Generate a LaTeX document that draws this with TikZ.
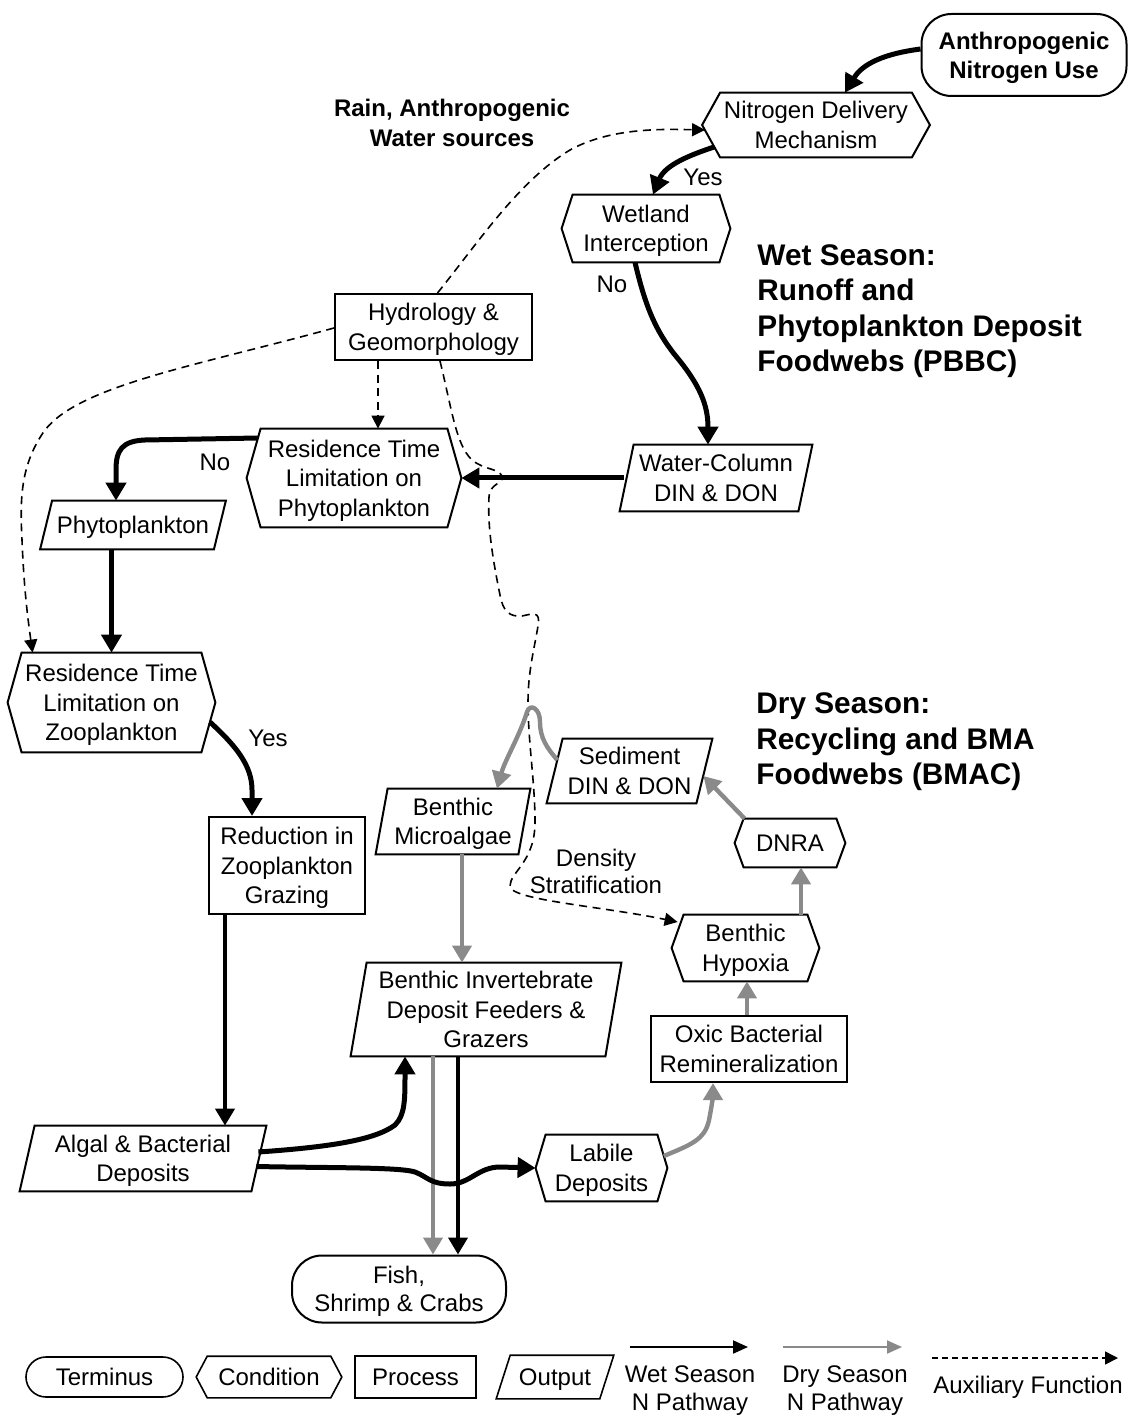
\documentclass[tikz,border=0pt]{standalone}
\usepackage{fontspec}
\setmainfont{Liberation Sans}
\usetikzlibrary{arrows.meta}
\definecolor{drygray}{RGB}{138,138,138}

\tikzset{
  nodetext/.style={inner sep=0pt, align=center, text depth=0pt, font=\fontsize{12}{14.75}\selectfont},
  shapeline/.style={draw=black, line width=1pt},
  proc/.style={nodetext, draw, line width=1pt},
  term/.style={nodetext, draw, line width=1pt, rounded corners=15pt},
  lbl/.style={inner sep=0pt, align=center, font=\fontsize{12}{14.75}\selectfont},
  wet/.style={line width=2.5pt, -{Triangle[length=9pt,width=10pt]}},
  wetthin/.style={line width=2pt, -{Triangle[length=8.5pt,width=9.5pt]}},
  dry/.style={color=drygray, line width=2.2pt, -{Triangle[length=8.5pt,width=9.5pt]}},
  aux/.style={line width=0.8pt, dash pattern=on 4pt off 2.8pt, -{Triangle[length=6.5pt,width=6.5pt]}},
}

% condition: hexagon pointed left and right
% [line style] {name}{position}{width}{height}{indent}{text}
\newcommand\condnode[7][]{%
  \node[nodetext, minimum width=#4, minimum height=#5, #1] (#2) at #3 {#7};
  \draw[shapeline, #1] (#2.west) -- ([xshift=#6]#2.north west) -- ([xshift=-#6]#2.north east)
    -- (#2.east) -- ([xshift=-#6]#2.south east) -- ([xshift=#6]#2.south west) -- cycle;}

% output: parallelogram leaning right
\newcommand\outnode[7][]{%
  \node[nodetext, minimum width=#4, minimum height=#5, #1] (#2) at #3 {#7};
  \draw[shapeline, #1] (#2.south west) -- ([xshift=#6]#2.north west) -- (#2.north east)
    -- ([xshift=-#6]#2.south east) -- cycle;}

\begin{document}
\begin{tikzpicture}[x=0.5pt, y=-0.5pt]
\useasboundingbox (0,0) rectangle (1134,1416);

% ---------- nodes ----------
\node[term, font=\fontsize{12}{14.5}\selectfont\bfseries, minimum width=102.5pt, minimum height=41pt]
  (anthro) at (1024,55) {Anthropogenic\\Nitrogen Use};
\condnode{deliv}{(816,125)}{113.5pt}{32pt}{9pt}{Nitrogen Delivery\\Mechanism}
\condnode{wetland}{(646,228.5)}{84pt}{33.5pt}{5.5pt}{Wetland\\Interception}
\node[proc, minimum width=98.5pt, minimum height=33pt] (hydro) at (433.5,327) {Hydrology \&\\Geomorphology};
\condnode{rtphyto}{(354,478)}{107pt}{49pt}{7pt}{Residence Time\\Limitation on\\Phytoplankton}
\outnode{phyto}{(133,525)}{92.5pt}{24pt}{6pt}{Phytoplankton}
\outnode{wcdin}{(716,478)}{96pt}{33pt}{7pt}{Water-Column\\DIN \& DON}
\condnode{rtzoo}{(111.5,702.5)}{103.5pt}{49.5pt}{7pt}{Residence Time\\Limitation on\\Zooplankton}
\node[proc, minimum width=78pt, minimum height=48.5pt] (graze) at (287,865.5) {Reduction in\\Zooplankton\\Grazing};
\outnode{bma}{(453,821.5)}{77pt}{32.5pt}{6pt}{Benthic\\Microalgae}
\outnode{seddin}{(629.5,771)}{82.5pt}{32pt}{8pt}{Sediment\\DIN \& DON}
\condnode{dnra}{(790,843)}{55pt}{24pt}{4.5pt}{DNRA}
\condnode{hypoxia}{(745.5,948)}{73.5pt}{33pt}{6pt}{Benthic\\Hypoxia}
\node[proc, minimum width=98pt, minimum height=33pt] (oxic) at (749,1049) {Oxic Bacterial\\Remineralization};
\outnode{invert}{(486,1009.5)}{135pt}{46.5pt}{8pt}{Benthic Invertebrate\\Deposit Feeders \&\\Grazers}
\outnode{algal}{(143,1158.5)}{123pt}{32.5pt}{7.5pt}{Algal \& Bacterial\\Deposits}
\condnode{labile}{(601.5,1168)}{65.5pt}{33pt}{5pt}{Labile\\Deposits}
\node[term, font=\fontsize{12}{14.25}\selectfont, minimum width=107pt, minimum height=33.5pt]
  (fish) at (399,1289) {Fish,\\Shrimp \& Crabs};

% ---------- headings and labels ----------
\node[lbl, font=\fontsize{12}{15}\selectfont\bfseries] (rain) at (452,123) {Rain, Anthropogenic\\Water sources};
\node[lbl, anchor=west, align=left, font=\fontsize{14.9}{17.75}\selectfont\bfseries]
  (wettitle) at (757,311) {Wet Season:\\Runoff and\\Phytoplankton Deposit\\Foodwebs (PBBC)};
\node[lbl, anchor=west, align=left, font=\fontsize{14.9}{17.75}\selectfont\bfseries]
  (drytitle) at (756,742) {Dry Season:\\Recycling and BMA\\Foodwebs (BMAC)};
\node[lbl] (yes1) at (703,177) {Yes};
\node[lbl] (no1) at (612,284) {No};
\node[lbl] (no2) at (215,462) {No};
\node[lbl] (yes2) at (268,738) {Yes};
\node[lbl, font=\fontsize{12}{13.5}\selectfont] (strat) at (596,871) {Density\\Stratification};

% ---------- auxiliary functions ----------
\draw[aux] ([xshift=2pt]hydro.north) .. controls (480,240) and (520,180) .. (570,150)
  .. controls (610,128) and (660,129) .. ([xshift=1.5pt,yshift=-2.5pt]deliv.west);
\draw[aux] ([yshift=-0.5pt]hydro.west) .. controls (200,365) and (80,385) .. (45,430)
  .. controls (20,465) and (20,500) .. (22,540)
  .. controls (24,590) and (28,620) .. ([xshift=12.5pt]rtzoo.north west);
\draw[aux] ([xshift=-27.75pt]hydro.south) -- ([xshift=-27.75pt]hydro.south |- rtphyto.north);
\draw[aux] ([xshift=3.25pt]hydro.south) .. controls (452,410) and (456,445) .. (472,460)
  .. controls (484,470) and (498,468) .. (502,476)
  .. controls (505,484) and (490,482) .. (489,497)
  .. controls (487,530) and (495,570) .. (500,595)
  .. controls (503,612) and (510,617) .. (522,616)
  .. controls (532,614) and (541,610) .. (538,626)
  .. controls (534,650) and (528,672) .. (528,702)
  .. controls (528,742) and (535,782) .. (535,822)
  .. controls (535,862) and (510,872) .. (510,886)
  .. controls (510,900) and (600,906) .. ([xshift=3pt,yshift=13pt]hypoxia.west);

% ---------- wet season pathway ----------
\draw[wet] ([yshift=3pt]anthro.west) .. controls (875,55) and (860,68) .. ([xshift=14.5pt]deliv.north);
\draw[wet] ([xshift=6pt,yshift=-11pt]deliv.west) .. controls (690,155) and (665,165) .. ([xshift=3.5pt]wetland.north);
\draw[wet] ([xshift=-5.5pt]wetland.south) .. controls (645,305) and (655,330) .. (675,355)
  .. controls (700,385) and (708,405) .. ([xshift=-4pt]wcdin.north);
\draw[wet] ([xshift=2pt]wcdin.west) -- (rtphyto.east);
\draw[wet] ([xshift=5.7pt,yshift=20pt]rtphyto.west) -- (145,440)
  .. controls (122,441) and (116,450) .. (116,470) -- ([xshift=-8.5pt]phyto.north);
\draw[wet] (phyto.south -| rtzoo.north) -- (rtzoo.north);
\draw[wet] ([xshift=-2.75pt,yshift=-9.75pt]rtzoo.east) .. controls (235,745) and (252,765) .. (252,790)
  -- ([xshift=-17.5pt]graze.north);
\draw[wetthin] ([xshift=-31pt]graze.south) -- ([xshift=-31pt]graze.south |- algal.north);
\draw[wet] ([xshift=-4pt,yshift=3.25pt]algal.east) .. controls (330,1147) and (375,1140) .. (395,1125)
  .. controls (405,1115) and (405,1100) .. ([xshift=-40.5pt]invert.south);
\draw[dry, line width=2pt] ([xshift=-26.5pt]invert.south) -- ([xshift=-26.5pt]invert.south |- fish.north);
\draw[wetthin] ([xshift=-14pt]invert.south) -- ([xshift=-14pt]invert.south |- fish.north);
\draw[wet] ([xshift=-5pt,yshift=-4pt]algal.east) .. controls (330,1168) and (400,1167) .. (415,1172)
  .. controls (428,1177) and (430,1184) .. (450,1184)
  .. controls (470,1184) and (478,1167) .. (500,1167) -- (labile.west);

% ---------- dry season pathway ----------
\draw[dry, line width=2pt] ([xshift=4.5pt]bma.south) -- ([xshift=4.5pt]bma.south |- invert.north);
\draw[dry] ([xshift=5.35pt,yshift=5.5pt]seddin.west) .. controls (547,748) and (540,738) .. (540,722)
  .. controls (540,708) and (530,703) .. (527,712)
  .. controls (520,735) and (505,760) .. ([xshift=22pt]bma.north);
\draw[dry] ([xshift=-1.8pt,yshift=6pt]labile.east) .. controls (690,1145) and (705,1140) .. (709,1120)
  .. controls (712,1105) and (713,1095) .. ([xshift=-18pt]oxic.south);
\draw[dry] ([xshift=-1pt]oxic.north) -- ([xshift=-1pt]oxic.north |- hypoxia.south);
\draw[dry] ([xshift=27.75pt]hypoxia.north) -- ([xshift=27.75pt]hypoxia.north |- dnra.south);
\draw[dry] ([xshift=5pt]dnra.north west) -- ([xshift=-4.5pt,yshift=-2.5pt]seddin.east);

% ---------- legend ----------
\node[term, rounded corners=10pt, line width=0.8pt, minimum width=78.5pt, minimum height=20pt]
  (legterm) at (104.5,1377) {Terminus};
\condnode[line width=0.8pt]{legcond}{(269,1377)}{72pt}{20pt}{5.5pt}{Condition}
\node[proc, line width=0.8pt, minimum width=60.5pt, minimum height=21pt] (legproc) at (415.5,1377) {Process};
\outnode[line width=0.8pt]{legout}{(555,1377)}{58pt}{21pt}{7pt}{Output}
\coordinate (wetA) at (630,1347);
\coordinate (wetB) at (748,1347);
\draw[line width=1pt, -{Triangle[length=7.5pt,width=6.5pt]}] (wetA) -- (wetB);
\node[lbl, font=\fontsize{12}{14}\selectfont] (wetleg) at (690,1391) {Wet Season\\N Pathway};
\coordinate (dryA) at (783,1347);
\coordinate (dryB) at (902,1347);
\draw[color=drygray, line width=1pt, -{Triangle[length=7.5pt,width=6.5pt]}] (dryA) -- (dryB);
\node[lbl, font=\fontsize{12}{14}\selectfont] (dryleg) at (845,1391) {Dry Season\\N Pathway};
\coordinate (auxA) at (932,1358);
\coordinate (auxB) at (1118,1358);
\draw[aux, dash pattern=on 3pt off 2pt] (auxA) -- (auxB);
\node[lbl] (auxleg) at (1028,1387) {Auxiliary Function};

\end{tikzpicture}
\end{document}
